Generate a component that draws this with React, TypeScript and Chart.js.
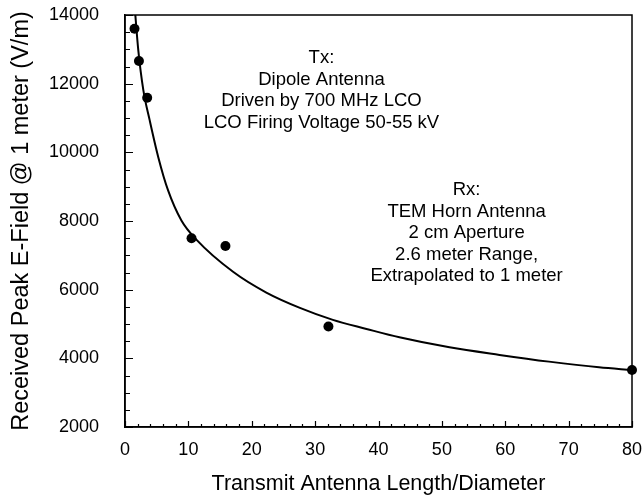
import React, { useEffect, useRef } from "react";
import { Chart, registerables } from "chart.js";

Chart.register(...registerables);

// Measured data points
const pointX = [1.5, 2.2, 3.5, 10.5, 15.85, 32.1, 80];
const pointY = [13600, 12660, 11590, 7500, 7270, 4925, 3660];

// Fitted curve
const curveX = [1.5, 2.1, 2.9, 3.9, 5.25, 6.8, 8.9, 11.3, 17.05, 22.3, 27.6, 32.8, 38.1, 43.3, 51.2, 59.1, 66.9, 74.8, 80];
const curveY = [14300, 12970, 11805, 10930, 9860, 8890, 8015, 7450, 6520, 5915, 5469, 5120, 4857, 4612, 4320, 4100, 3904, 3738, 3660];

const xMin = 0;
const xMax = 80;
const xStep = 10;
const xMinorStep = 2;
const yMin = 2000;
const yMax = 14000;
const yStep = 2000;
const yMinorStep = 500;

const xTitle = "Transmit Antenna Length/Diameter";
const yTitle = "Received Peak E-Field @ 1 meter (V/m)";

const txLines = ["Tx:", "Dipole Antenna", "Driven by 700 MHz LCO", "LCO Firing Voltage 50-55 kV"];
const txAnchor = { x: 31.0, y: 12750 };
const rxLines = ["Rx:", "TEM Horn Antenna", "2 cm Aperture", "2.6 meter Range,", "Extrapolated to 1 meter"];
const rxAnchor = { x: 53.9, y: 8900 };

const FONT = "'Liberation Sans', Arial, Helvetica, sans-serif";

const framePlugin = {
  id: "frameAndTicks",
  afterDraw(chart: any) {
    const { ctx, chartArea } = chart;
    const xs = chart.scales.x;
    const ys = chart.scales.y;
    ctx.save();
    ctx.strokeStyle = "#000";
    ctx.lineWidth = 1.5;
    ctx.strokeRect(chartArea.left, chartArea.top, chartArea.right - chartArea.left, chartArea.bottom - chartArea.top);
    ctx.lineWidth = 1.2;
    ctx.beginPath();
    for (let v = xMin; v <= xMax + 1e-9; v += xMinorStep) {
      const px = Math.round(xs.getPixelForValue(v)) + 0.5;
      const len = Math.abs(v % xStep) < 1e-9 ? 6 : 3;
      ctx.moveTo(px, chartArea.bottom);
      ctx.lineTo(px, chartArea.bottom - len);
    }
    for (let v = yMin; v <= yMax + 1e-9; v += yMinorStep) {
      const py = Math.round(ys.getPixelForValue(v)) + 0.5;
      const len = Math.abs(v % yStep) < 1e-9 ? 8 : 5;
      ctx.moveTo(chartArea.left, py);
      ctx.lineTo(chartArea.left + len, py);
    }
    ctx.stroke();

    ctx.fillStyle = "#000";
    ctx.font = `18.5px ${FONT}`;
    ctx.textAlign = "center";
    ctx.textBaseline = "middle";
    const lh = 21.5;
    const drawBlock = (lines: string[], a: { x: number; y: number }) => {
      const cx = xs.getPixelForValue(a.x);
      const cy = ys.getPixelForValue(a.y);
      lines.forEach((t, i) => ctx.fillText(t, cx, cy + i * lh));
    };
    drawBlock(txLines, txAnchor);
    drawBlock(rxLines, rxAnchor);
    ctx.restore();
  },
};

export default function App() {
  const ref = useRef<HTMLCanvasElement | null>(null);
  useEffect(() => {
    if (!ref.current) return;
    const chart = new Chart(ref.current, {
      type: "scatter",
      data: {
        datasets: [
          {
            type: "line",
            data: curveX.map((x, i) => ({ x, y: curveY[i] })),
            borderColor: "#000",
            borderWidth: 2,
            pointRadius: 0,
            fill: false,
            cubicInterpolationMode: "monotone",
            clip: 0,
          } as any,
          {
            type: "scatter",
            data: pointX.map((x, i) => ({ x, y: pointY[i] })),
            backgroundColor: "#000",
            borderColor: "#000",
            borderWidth: 0,
            pointRadius: 5,
            clip: false,
          } as any,
        ],
      },
      options: {
        animation: false,
        responsive: false,
        devicePixelRatio: 1,
        layout: { padding: { left: 0, right: 12, top: 15, bottom: 0 } },
        plugins: { legend: { display: false }, tooltip: { enabled: false } },
        scales: {
          x: {
            type: "linear",
            min: xMin,
            max: xMax,
            ticks: { stepSize: xStep, color: "#000", font: { family: FONT, size: 18 }, padding: 12, callback: (v: any) => String(v) },
            grid: { drawOnChartArea: false, drawTicks: false },
            border: { display: true, color: "#000", width: 1.5 },
            title: { display: true, text: xTitle, color: "#000", font: { family: FONT, size: 21.5 }, padding: { top: 0, bottom: 0 } },
            afterFit: (s: any) => { s.height = 70; s.paddingLeft = 0; s.paddingRight = 0; },
          },
          y: {
            type: "linear",
            min: yMin,
            max: yMax,
            ticks: { stepSize: yStep, color: "#000", font: { family: FONT, size: 18 }, padding: 26, callback: (v: any) => String(v) },
            grid: { drawOnChartArea: false, drawTicks: false },
            border: { display: true, color: "#000", width: 1.5 },
            title: { display: true, text: yTitle, color: "#000", font: { family: FONT, size: 23.5 }, padding: { top: 7, bottom: 0 } },
            afterFit: (s: any) => { s.width = 125; s.paddingTop = 0; s.paddingBottom = 0; },
          },
        },
      },
      plugins: [framePlugin],
    });
    return () => chart.destroy();
  }, []);
  return (
    <div style={{ position: "absolute", left: 0, top: 0, width: 644, height: 497, background: "#fff" }}>
      <canvas ref={ref} width={644} height={497} style={{ display: "block" }} />
    </div>
  );
}
